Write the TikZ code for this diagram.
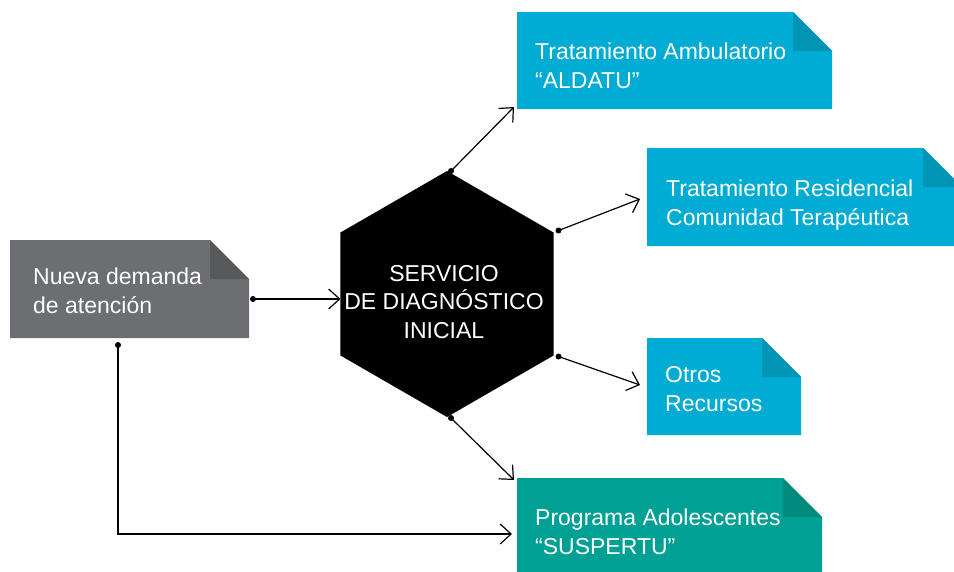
\documentclass[tikz,border=0pt]{standalone}
\usepackage{fontspec}
\setmainfont{Liberation Sans}
\usetikzlibrary{arrows.meta,calc}
\definecolor{boxgrey}{HTML}{6D6E71}
\definecolor{foldgrey}{HTML}{58595B}
\definecolor{boxblue}{HTML}{00ABD4}
\definecolor{foldblue}{HTML}{0094B5}
\definecolor{boxteal}{HTML}{00A094}
\definecolor{foldteal}{HTML}{008A7E}
\newcommand\notebox[3]{% node, body colour, fold colour
  \fill[#2] (#1.south west) -- (#1.north west) -- ($(#1.north east)+(-39,0)$)
    -- ($(#1.north east)+(0,39)$) -- (#1.south east) -- cycle;
  \fill[#3] ($(#1.north east)+(-39,0)$) -- ($(#1.north east)+(-39,39)$)
    -- ($(#1.north east)+(0,39)$) -- cycle;}
\begin{document}
\begin{tikzpicture}[x=1pt,y=-1pt,
  boxshape/.style={rectangle, inner sep=0pt, outer sep=0pt},
  lbl/.style={text=white, font=\fontsize{23}{28.5}\selectfont, align=left, inner sep=0pt, anchor=west},
  hexlbl/.style={text=white, font=\fontsize{23}{28.5}\selectfont, align=center, inner sep=0pt},
  conn/.style={line width=1.2pt, -{Straight Barb[length=11pt,width=20pt]}},
  dot/.style={fill=black}]
\useasboundingbox (0,0) rectangle (954,571);
\clip (0,0) rectangle (954,571);

% boxes
\node[boxshape, minimum width=239pt, minimum height=98pt] (nueva) at (129.5,289) {};
\node[boxshape, minimum width=315pt, minimum height=97pt] (amb) at (674.5,60.5) {};
\node[boxshape, minimum width=315pt, minimum height=98pt] (res) at (804.5,197) {};
\node[boxshape, minimum width=154pt, minimum height=97pt] (otros) at (724,386.5) {};
\node[boxshape, minimum width=305pt, minimum height=97pt] (prog) at (669.5,526.5) {};
\notebox{nueva}{boxgrey}{foldgrey}
\notebox{amb}{boxblue}{foldblue}
\notebox{res}{boxblue}{foldblue}
\notebox{otros}{boxblue}{foldblue}
\notebox{prog}{boxteal}{foldteal}

% hexagon
\node[circle, inner sep=0pt, outer sep=0pt, minimum size=246pt] (hex) at (447,294) {};
\fill[black] (hex.90) -- (hex.30) -- (hex.-30) -- (hex.-90) -- (hex.210) -- (hex.150) -- cycle;

% labels
\node[lbl] (nuevatxt) at (33,293.5) {\strut Nueva demanda\\\strut de atención};
\node[lbl] (ambtxt) at (535,68.5) {\strut Tratamiento Ambulatorio\\\strut “ALDATU”};
\node[lbl] (restxt) at (666,205.5) {\strut Tratamiento Residencial\\\strut Comunidad Terapéutica};
\node[lbl] (otrostxt) at (665,391.5) {\strut Otros\\\strut Recursos};
\node[lbl] (progtxt) at (535,534.5) {\strut Programa Adolescentes\\\strut “SUSPERTU”};
\node[hexlbl] (hextxt) at (444,303.8) {\strut SERVICIO\\\strut DE DIAGNÓSTICO\\\strut INICIAL};

% connector start points
\coordinate (d1) at ($(nueva.east)+(4,10)$);
\coordinate (d2) at ($(nueva.south west)+(108,7)$);
\coordinate (d3) at ($(hex.90)+(4,0)$);
\coordinate (d4) at ($(hex.30)+(5,-2)$);
\coordinate (d5) at ($(hex.-30)+(5,1)$);
\coordinate (d6) at ($(hex.-90)+(4,1)$);

% connectors
\draw[conn] (d1) -- (d1 -| hex.150);
\draw[conn] (d2) |- ($(prog.west)+(-5,7.5)$);
\draw[conn] (d3) -- ($(amb.south west)+(-3,-2)$);
\draw[conn] (d4) -- ($(res.west)+(-7,2)$);
\draw[conn] (d5) -- ($(otros.west)+(-7,-1.5)$);
\draw[conn] (d6) -- ($(prog.north west)+(-3,2)$);
\foreach \d in {d1,d2,d3,d4,d5,d6} \fill[dot] (\d) circle (3pt);
\end{tikzpicture}
\end{document}
